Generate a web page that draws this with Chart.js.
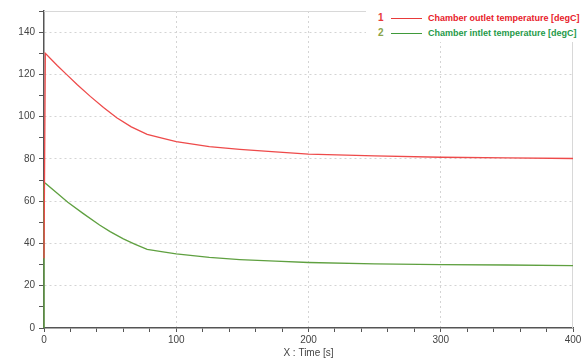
<!DOCTYPE html>
<html>
<head>
<meta charset="utf-8">
<script src="https://cdn.jsdelivr.net/npm/chart.js@4"></script>
<style>
  body { margin: 0; background: #fff; }
  #wrap { position: relative; width: 585px; height: 360px; }
  #legendBox {
    position: absolute; left: 366px; top: 0; width: 219px; height: 42px;
    background: #fff; font-family: Arial, "Liberation Sans", sans-serif;
    font-size: 9px; font-weight: bold;
  }
  .row { position: absolute; left: 0; height: 12px; line-height: 12px; white-space: nowrap; }
  .num { position: absolute; left: 12px; font-size: 10px; }
  .seg { position: absolute; left: 25px; top: 6px; width: 31px; height: 1px; }
  .txt { position: absolute; left: 62px; }
</style>
</head>
<body>
<div id="wrap">
  <canvas id="tempChart" width="585" height="360"></canvas>
  <div id="legendBox">
    <div class="row" style="top:12px">
      <span class="num" style="color:#e83a3a">1</span>
      <span class="seg" style="background:#e83a3a"></span>
      <span class="txt" style="color:#e8202a">Chamber outlet temperature [degC]</span>
    </div>
    <div class="row" style="top:27px">
      <span class="num" style="color:#8aa44a">2</span>
      <span class="seg" style="background:#3f9a3a"></span>
      <span class="txt" style="color:#1f9a4a">Chamber intlet temperature [degC]</span>
    </div>
  </div>
</div>
<script>
// time [s] and temperatures [degC]
const outletTime = [0, 1, 10, 17, 25, 35, 45, 55, 66, 78, 90, 100, 125, 148, 175, 200, 250, 300, 350, 400];
const outletTemp = [33, 130, 124.2, 120, 115.2, 109.6, 104.3, 99.5, 95.2, 91.6, 89.7, 88.2, 85.8, 84.5, 83.3, 82.3, 81.4, 80.8, 80.5, 80.2];

const inletTime = [0, 0, 1, 10, 18, 30, 42, 50, 60, 69, 78, 90, 100, 125, 148, 175, 200, 250, 300, 350, 400];
const inletTemp = [0, 68.5, 68.5, 63.8, 59.5, 54, 48.7, 45.6, 42.2, 39.6, 37.2, 36, 35.1, 33.4, 32.4, 31.6, 31, 30.3, 30, 29.8, 29.5];

const xTicks = [0, 100, 200, 300, 400];
const yTicks = [0, 20, 40, 60, 80, 100, 120, 140];

const toPoints = (xs, ys) => xs.map((x, i) => ({ x: x, y: ys[i] }));

const frame = {
  id: "frame",
  beforeDatasetsDraw(chart) {
    const { ctx, chartArea: a } = chart;
    ctx.save();
    ctx.strokeStyle = "#d8d8d8";
    ctx.lineWidth = 1;
    ctx.beginPath();
    ctx.moveTo(a.left, a.top + 0.5);
    ctx.lineTo(a.right - 0.5, a.top + 0.5);
    ctx.lineTo(a.right - 0.5, a.bottom);
    ctx.stroke();
    ctx.restore();
  },
};

const ctx = document.getElementById("tempChart").getContext("2d");
new Chart(ctx, {
  type: "line",
  data: {
    datasets: [
      {
        label: "Chamber outlet temperature [degC]",
        data: toPoints(outletTime, outletTemp),
        borderColor: "#ee4a4a",
        borderWidth: 1.3,
        pointRadius: 0,
        tension: 0,
        clip: 4,
      },
      {
        label: "Chamber intlet temperature [degC]",
        data: toPoints(inletTime, inletTemp),
        borderColor: "#5fa040",
        borderWidth: 1.3,
        pointRadius: 0,
        tension: 0,
        clip: 4,
      },
    ],
  },
  plugins: [frame],
  options: {
    responsive: false,
    animation: false,
    layout: { padding: { top: 11, right: 12, left: 0, bottom: 0 } },
    plugins: { legend: { display: false }, tooltip: { enabled: false } },
    scales: {
      x: {
        type: "linear",
        min: 0,
        max: 400,
        afterFit: (s) => { s.height = 32; },
        ticks: {
          stepSize: 20,
          autoSkip: false,
          maxRotation: 0,
          padding: 2,
          color: "#444",
          font: { family: "Arial, 'Liberation Sans', sans-serif", size: 10 },
          callback: (v) => (xTicks.includes(v) ? v : ""),
        },
        grid: {
          color: (c) => (c.tick && c.tick.value % 100 === 0 && c.tick.value > 0 && c.tick.value < 400 ? "#d4d4d4" : "transparent"),
          tickColor: "#555",
          tickLength: 4,
          lineWidth: 1,
        },
        border: { color: "#555", width: 1.5, dash: [2, 3] },
        title: {
          display: true,
          text: "X : Time [s]",
          color: "#444",
          padding: { top: 0, bottom: 1 },
          font: { family: "Arial, 'Liberation Sans', sans-serif", size: 10 },
        },
      },
      y: {
        min: 0,
        max: 150,
        afterFit: (s) => { s.width = 44; },
        ticks: {
          stepSize: 10,
          autoSkip: false,
          padding: 4,
          color: "#444",
          font: { family: "Arial, 'Liberation Sans', sans-serif", size: 10 },
          callback: (v) => (yTicks.includes(v) ? v : ""),
        },
        grid: {
          color: (c) => (c.tick && c.tick.value % 20 === 0 && c.tick.value > 0 && c.tick.value < 150 ? "#d4d4d4" : "transparent"),
          tickColor: "#555",
          tickLength: 5,
          lineWidth: 1,
        },
        border: { color: "#555", width: 1.5, dash: [2, 3] },
      },
    },
  },
});
</script>
</body>
</html>
